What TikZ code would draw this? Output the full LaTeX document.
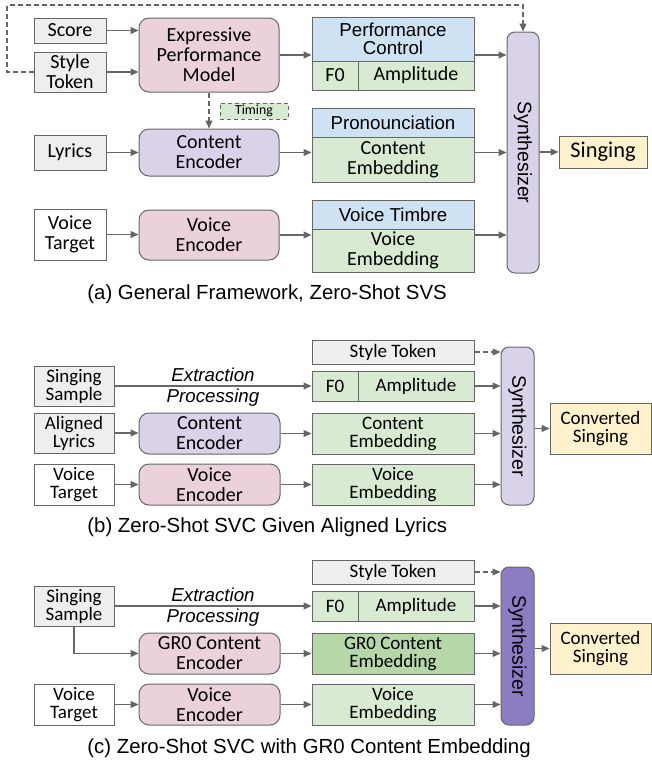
\documentclass[tikz,border=0pt]{standalone}
\usepackage{fontspec}
\setmainfont{Liberation Sans}
\newfontfamily\carlito{Carlito}
\usetikzlibrary{arrows.meta}

\definecolor{linec}{HTML}{666666}
\definecolor{grayfill}{HTML}{EEEEEE}
\definecolor{pinkfill}{HTML}{EAD1DC}
\definecolor{purplefill}{HTML}{D9D2E9}
\definecolor{darkpurple}{HTML}{8E7CC3}
\definecolor{bluefill}{HTML}{CFE2F3}
\definecolor{greenfill}{HTML}{D9EAD3}
\definecolor{darkgreen}{HTML}{B6D7A8}
\definecolor{yellowfill}{HTML}{FFF2CC}

\begin{document}
\begin{tikzpicture}[x=0.5pt, y=-0.5pt,
    box/.style={draw=linec, line width=0.5pt, inner sep=0pt, align=center, cfont},
    rbox/.style={box, rounded corners=5pt},
    wh/.style 2 args={minimum width=#1*0.5pt, minimum height=#2*0.5pt},
    cfont/.style={font=\carlito\fontsize{10}{10}\selectfont},
    sfont/.style={font=\carlito\fontsize{9.5}{9}\selectfont},
    arial/.style={font=\fontsize{9.35}{9.2}\selectfont},
    arr/.style={draw=linec, line width=0.6pt, -{Triangle[length=4pt,width=3.5pt]}},
    darr/.style={arr, dash pattern=on 2.5pt off 1.5pt}]

    \useasboundingbox (0,0) rectangle (652,761);

    % (a) general framework
    \node[box, fill=grayfill, wh={72}{25}] (score) at (70,30.5) {Score};
    \node[box, fill=grayfill, wh={72}{40}] (style) at (70,72) {Style\\Token};
    \node[rbox, fill=pinkfill, wh={140}{74}] (epm) at (209,55) {Expressive\\Performance\\Model};
    \node[box, fill=greenfill, dash pattern=on 2pt off 1.5pt, wh={68}{16}, font=\carlito\fontsize{6.9}{7}\selectfont] (timing) at (254,111) {Timing};
    \node[box, fill=grayfill, wh={72}{35}] (lyrics) at (70,152.5) {Lyrics};
    \node[rbox, fill=purplefill, wh={140}{47}] (ce) at (209,152.5) {Content\\Encoder};
    \node[box, fill=white, wh={72}{51}] (vt) at (70,234.5) {Voice\\Target};
    \node[rbox, fill=pinkfill, wh={140}{50}] (ve) at (209,235) {Voice\\Encoder};

    \node[box, arial, fill=bluefill, wh={162}{44}] (pc) at (393,39) {Performance\\Control};
    \node[box, fill=greenfill, wh={46}{29}] (f0) at (335,75.5) {F0};
    \node[box, fill=greenfill, wh={116}{29}] (amp) at (416,75.5) {Amplitude};
    \node[box, arial, fill=bluefill, wh={162}{29}] (pron) at (393,122.5) {Pronounciation};
    \node[box, fill=greenfill, wh={162}{45}] (cemb) at (393,159.5) {Content\\Embedding};
    \node[box, arial, fill=bluefill, wh={162}{29}] (timbre) at (393,214.5) {Voice Timbre};
    \node[box, fill=greenfill, wh={162}{43}] (vemb) at (393,250.5) {Voice\\Embedding};

    \node[rbox, fill=purplefill, wh={32}{241}, rounded corners=4pt] (synth) at (523,152.5) {};
    \node[rotate=-90, font=\fontsize{9.75}{10}\selectfont] (synthtext) at (synth) {Synthesizer};
    \node[box, fill=yellowfill, wh={88}{32}, font=\carlito\fontsize{11.2}{11}\selectfont] (sing) at (603,152) {Singing};

    \draw[arr] (score) -- (score -| epm.west);
    \draw[arr] (style) -- (style -| epm.west);
    \draw[arr] (epm) -- (epm -| pc.west);
    \draw[arr] (epm -| pc.east) -- (epm -| synth.west);
    \draw[darr] (epm) -- (ce);
    \draw[arr] (lyrics) -- (ce);
    \draw[arr] (ce) -- (ce -| cemb.west);
    \draw[arr] (ce -| cemb.east) -- (ce -| synth.west);
    \draw[arr] (vt) -- (vt -| ve.west);
    \draw[arr] (ve) -- (ve -| vemb.west);
    \draw[arr] (ve -| vemb.east) -- (ve -| synth.west);
    \draw[arr] (synth.east |- sing) -- (sing);
    \coordinate (loop) at (7,5);
    \draw[darr] (style.west) -| (loop) -| (synth.north);

    \node[anchor=west, inner sep=0pt, font=\fontsize{10.2}{12}\selectfont] (capa) at (87,294) {(a) General Framework, Zero-Shot SVS};

    % (b) and (c) share the same frame
    \foreach \s/\dy/\sfill in {b/0/purplefill, c/220/darkpurple}{
      \node[box, sfont, fill=grayfill, wh={80}{40}] (ss\s) at (74,386+\dy) {Singing\\Sample};
      \node[box, sfont, fill=white, wh={80}{41}] (vt\s) at (74,484.5+\dy) {Voice\\Target};
      \node[rbox, fill=pinkfill, wh={141}{41}] (ve\s) at (209.5,484.5+\dy) {Voice\\Encoder};
      \node[box, sfont, fill=grayfill, wh={162}{24}] (st\s) at (393,352+\dy) {Style Token};
      \node[box, sfont, fill=greenfill, wh={46}{30}] (f0\s) at (335,386+\dy) {F0};
      \node[box, sfont, fill=greenfill, wh={116}{30}] (amp\s) at (416,386+\dy) {Amplitude};
      \node[box, sfont, fill=greenfill, wh={162}{41}] (vemb\s) at (393,484.5+\dy) {Voice\\Embedding};
      \node[rbox, fill=\sfill, wh={33}{158}, rounded corners=4pt] (synth\s) at (517.5,426+\dy) {};
      \node[rotate=-90, font=\fontsize{9.75}{10}\selectfont] (synthtext\s) at (synth\s) {Synthesizer};
      \node[box, sfont, fill=yellowfill, wh={101}{51}] (conv\s) at (600.5,428.5+\dy) {Converted\\Singing};
      \node[font=\itshape\fontsize{9.35}{9}\selectfont] (ext\s) at (213,375+\dy) {Extraction};
      \node[font=\itshape\fontsize{9.35}{9}\selectfont] (proc\s) at (213,398+\dy) {Processing};

      \draw[arr] (ss\s) -- (ss\s -| f0\s.west);
      \draw[darr] (st\s.east) -- (st\s.east -| synth\s.west);
      \draw[arr] (amp\s.east) -- (amp\s.east -| synth\s.west);
      \draw[arr] (vt\s) -- (ve\s);
      \draw[arr] (ve\s) -- (vemb\s);
      \draw[arr] (vemb\s) -- (vemb\s -| synth\s.west);
      \draw[arr] (synth\s.east |- conv\s) -- (conv\s);
    }

    % (b) middle row
    \node[box, sfont, fill=grayfill, wh={80}{40}] (al) at (74,433) {Aligned\\Lyrics};
    \node[rbox, fill=purplefill, wh={141}{41}] (ceb) at (209.5,433.5) {Content\\Encoder};
    \node[box, sfont, fill=greenfill, wh={162}{41}] (cembb) at (393,433.5) {Content\\Embedding};
    \draw[arr] (al) -- (al -| ceb.west);
    \draw[arr] (ceb) -- (cembb);
    \draw[arr] (cembb) -- (cembb -| synthb.west);
    \node[anchor=west, inner sep=0pt, font=\fontsize{10.2}{12}\selectfont] (capb) at (87,527) {(b) Zero-Shot SVC Given Aligned Lyrics};

    % (c) middle row
    \node[rbox, fill=pinkfill, wh={141}{41}] (gce) at (209.5,653.5) {GR0 Content\\Encoder};
    \node[box, sfont, fill=darkgreen, wh={162}{41}] (gcemb) at (393,653.5) {GR0 Content\\Embedding};
    \draw[arr] (ssc.south) |- (gce.west);
    \draw[arr] (gce) -- (gcemb);
    \draw[arr] (gcemb) -- (gcemb -| synthc.west);
    \node[anchor=west, inner sep=0pt, font=\fontsize{10.2}{12}\selectfont] (capc) at (87,748) {(c) Zero-Shot SVC with GR0 Content Embedding};
\end{tikzpicture}
\end{document}
